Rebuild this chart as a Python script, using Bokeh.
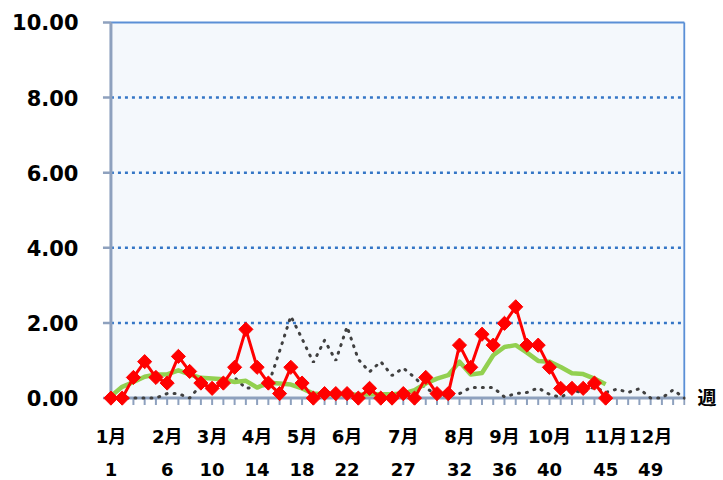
import math
from bokeh.plotting import figure
from bokeh.models import Range1d, FixedTicker, LinearAxis, PrintfTickFormatter
from bokeh.embed import file_html
from bokeh.resources import INLINE

# ---------------- data ----------------
weeks_all = list(range(1, 53))
weeks_cur = list(range(1, 46))

current_year = [0, 0, 0.55, 0.97, 0.55, 0.40, 1.11, 0.71, 0.40, 0.26,
                0.40, 0.82, 1.83, 0.82, 0.40, 0.12, 0.82, 0.40, 0, 0.12,
                0.12, 0.12, 0, 0.26, 0, 0, 0.12, 0, 0.55, 0.12,
                0.12, 1.41, 0.82, 1.70, 1.41, 1.99, 2.43, 1.41, 1.41, 0.82,
                0.26, 0.26, 0.26, 0.40, 0]

average = [0.05, 0.30, 0.43, 0.57, 0.63, 0.63, 0.74, 0.63, 0.54, 0.52,
           0.50, 0.43, 0.46, 0.28, 0.41, 0.39, 0.36, 0.26, 0.12, 0.10,
           0.10, 0.10, 0.09, 0.10, 0.10, 0.10, 0.12, 0.21, 0.39, 0.52,
           0.61, 0.97, 0.63, 0.67, 1.14, 1.36, 1.41, 1.21, 0.99, 0.97,
           0.83, 0.66, 0.64, 0.52, 0.37]

last_year = [0, 0, 0, 0, 0, 0.12, 0.12, 0, 0.35, 0.30,
             0.35, 0.55, 0.26, 0.30, 0.35, 1.25, 2.18, 1.58, 0.95, 1.54,
             1.00, 1.90, 1.03, 0.70, 0.97, 0.60, 0.80, 0.55, 0.26, 0.10,
             0.06, 0.12, 0.28, 0.28, 0.28, 0.03, 0.12, 0.15, 0.27, 0.10,
             0.02, 0.20, 0.15, 0.30, 0.15, 0.24, 0.15, 0.25, 0, 0,
             0.22, 0]

y_ticks = [0, 2, 4, 6, 8, 10]
grid_levels = [2, 4, 6, 8]
month_weeks = [1, 6, 10, 14, 18, 22, 27, 32, 36, 40, 45, 49]
month_labels = ["1月", "2月", "3月", "4月", "5月", "6月", "7月", "8月", "9月", "10月", "11月", "12月"]
week_labels = [1, 6, 10, 14, 18, 22, 27, 32, 36, 40, 45, 49]
x_unit = "週"

# ---------------- styles ----------------
AXIS_COL = "#8EA1BE"
GRID_COL = "#3476C6"
BORDER_COL = "#5A8FD6"
BG_COL = "#F4F8FC"
RED = "#FF0000"
GREEN = "#92D050"
DOT_COL = "#404040"
NUM_FONT = "DejaVu Sans"
CJK_FONT = "DejaVu Sans, Noto Sans CJK JP"

X0, X1 = 0.25, 52.1
Y0, Y1 = -0.25, 10.05
W, H = 723, 480
BL, BR, BT, BB = 102, 38, 20, 73

p = figure(width=W, height=H, x_range=Range1d(X0, X1), y_range=Range1d(Y0, Y1),
           output_backend="svg", toolbar_location=None,
           x_axis_type=None, y_axis_type=None,
           min_border_left=BL, min_border_right=BR, min_border_top=BT, min_border_bottom=BB,
           background_fill_color="white", border_fill_color="white",
           outline_line_color=None)

# pixel -> data conversions for tick lengths
px_per_x = (W - BL - BR) / (X1 - X0)
px_per_y = (H - BT - BB) / (Y1 - Y0)
xmin, xmax = weeks_all[0], weeks_all[-1]
ymin, ymax = y_ticks[0], y_ticks[-1]

# plot-area background
p.quad(left=[xmin], right=[xmax], bottom=[ymin], top=[ymax], fill_color=BG_COL, line_color=None)

# dotted grid lines
p.segment(x0=[xmin] * len(grid_levels), x1=[xmax] * len(grid_levels), y0=grid_levels, y1=grid_levels,
          line_color=GRID_COL, line_width=2.5, line_dash="3 4")

# top and right borders
p.segment(x0=[xmin, xmax], x1=[xmax, xmax], y0=[ymax, ymin], y1=[ymax, ymax],
          line_color=BORDER_COL, line_width=2)

# axis lines
p.segment(x0=[xmin, xmin], x1=[xmin, xmax], y0=[ymin, ymin], y1=[ymax, ymin],
          line_color=AXIS_COL, line_width=3)
# left ticks
tl = 8 / px_per_x
p.segment(x0=[xmin - tl] * len(y_ticks), x1=[xmin] * len(y_ticks), y0=y_ticks, y1=y_ticks,
          line_color=AXIS_COL, line_width=2.5)
# bottom ticks
tb = 7 / px_per_y
p.segment(x0=weeks_all, x1=weeks_all, y0=[ymin] * len(weeks_all), y1=[ymin - tb] * len(weeks_all),
          line_color=AXIS_COL, line_width=2)

# series
p.line(weeks_all, last_year, line_color=DOT_COL, line_width=3, line_dash="1 7", line_cap="round")
p.line(weeks_cur, average, line_color=GREEN, line_width=4.5, line_join="round")
p.line(weeks_cur, current_year, line_color=RED, line_width=3)
p.scatter(weeks_cur, current_year, marker="square", size=10, angle=math.pi / 4,
          fill_color=RED, line_color=RED, line_width=1)

# axes (labels only)
def quiet(ax):
    ax.axis_line_color = None
    ax.major_tick_line_color = None
    ax.minor_tick_line_color = None
    ax.major_tick_in = 0
    ax.major_tick_out = 0
    ax.minor_tick_in = 0
    ax.minor_tick_out = 0
    ax.major_label_text_color = "black"
    ax.major_label_text_font_style = "bold"

yaxis = LinearAxis(ticker=FixedTicker(ticks=y_ticks), formatter=PrintfTickFormatter(format="%.2f"))
quiet(yaxis)
yaxis.major_label_standoff = 24
yaxis.major_label_text_font = NUM_FONT
yaxis.major_label_text_font_size = "21px"
p.add_layout(yaxis, "left")

maxis = LinearAxis(ticker=FixedTicker(ticks=month_weeks),
                   major_label_overrides={w: m for w, m in zip(month_weeks, month_labels)})
quiet(maxis)
maxis.major_label_standoff = 18
maxis.major_label_text_font = CJK_FONT
maxis.major_label_text_font_size = "18px"
p.add_layout(maxis, "below")

waxis = LinearAxis(ticker=FixedTicker(ticks=week_labels),
                   major_label_overrides={w: str(w) for w in week_labels})
quiet(waxis)
waxis.major_label_standoff = 13
waxis.major_label_text_font = NUM_FONT
waxis.major_label_text_font_size = "18px"
p.add_layout(waxis, "below")

# unit label "週" at the right end of the x axis (y = 0)
uaxis = LinearAxis(ticker=FixedTicker(ticks=[ymin]), major_label_overrides={ymin: x_unit})
quiet(uaxis)
uaxis.major_label_standoff = 12
uaxis.major_label_text_font = CJK_FONT
uaxis.major_label_text_font_size = "19px"
p.add_layout(uaxis, "right")

open("out.html", "w").write(file_html(p, INLINE))
